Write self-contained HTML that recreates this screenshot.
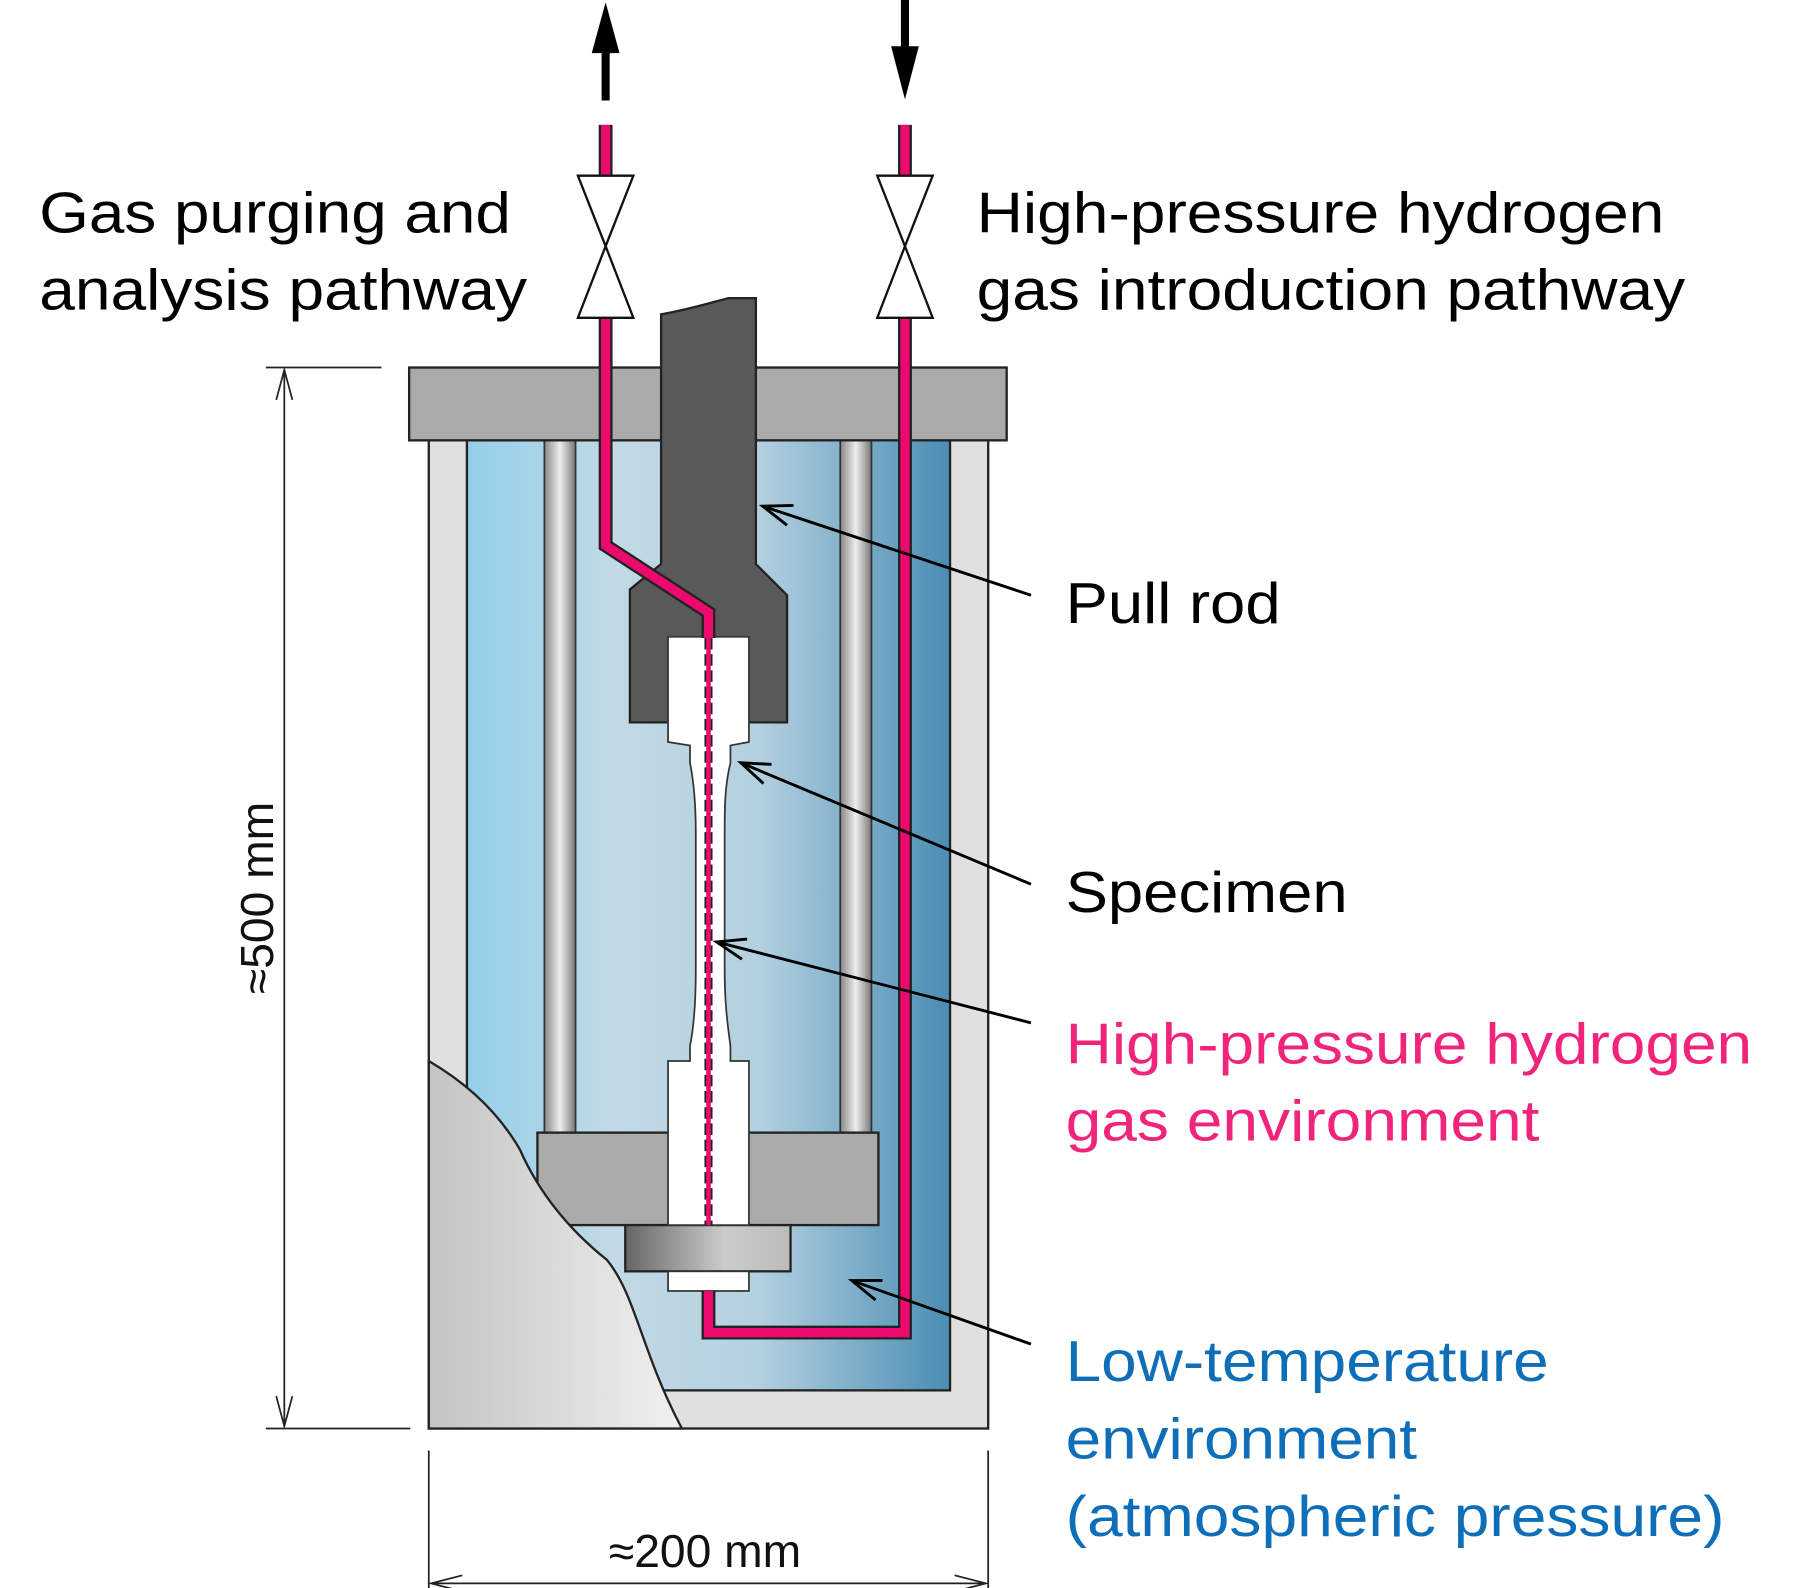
<!DOCTYPE html>
<html><head><meta charset="utf-8"><style>html,body{margin:0;padding:0;background:#fff}svg{display:block}</style></head>
<body>
<svg width="1803" height="1588" viewBox="0 0 1560 1374" preserveAspectRatio="none" xmlns="http://www.w3.org/2000/svg" font-family="Liberation Sans, Arial, sans-serif">
<defs>
<linearGradient id="blue" x1="0" x2="1" y1="0" y2="0">
<stop offset="0" stop-color="#93cfea"/><stop offset="0.3" stop-color="#c2d9e5"/><stop offset="0.6" stop-color="#b4d1e0"/><stop offset="1" stop-color="#4a8db3"/></linearGradient>
<linearGradient id="rod" x1="0" x2="1"><stop offset="0" stop-color="#888"/><stop offset="0.5" stop-color="#eee"/><stop offset="1" stop-color="#777"/></linearGradient>
<linearGradient id="nut" x1="0" x2="1"><stop offset="0" stop-color="#666"/><stop offset="0.6" stop-color="#ccc"/><stop offset="1" stop-color="#bbb"/></linearGradient>
<linearGradient id="cut" x1="0" x2="1"><stop offset="0" stop-color="#c4c4c4"/><stop offset="1" stop-color="#f0f0f0"/></linearGradient>
<marker id="ah" markerWidth="32" markerHeight="26" refX="28" refY="12" orient="auto" markerUnits="userSpaceOnUse"><path d="M3,3 L28,12 L3,21" fill="none" stroke="#000" stroke-width="2.5"/></marker>
</defs>
<rect x="371" y="380" width="484" height="856" fill="#e0e0e0" stroke="#222" stroke-width="2"/>
<rect x="404" y="381" width="418" height="822" fill="url(#blue)" stroke="#222" stroke-width="2"/>
<rect x="471" y="381" width="27" height="600" fill="url(#rod)" stroke="#333" stroke-width="1.5"/>
<rect x="727" y="381" width="27" height="600" fill="url(#rod)" stroke="#333" stroke-width="1.5"/>
<rect x="354" y="318" width="517" height="63" fill="#aaa" stroke="#222" stroke-width="2"/>
<rect x="465" y="980" width="295" height="80" fill="#aaa" stroke="#222" stroke-width="2"/>
<rect x="541" y="1060" width="143" height="40" fill="url(#nut)" stroke="#222" stroke-width="2"/>
<path d="M572,272 C595,268 615,262 630,258 L654,258 L654,488 L681,515 L681,625 L545,625 L545,510 L572,488 Z" fill="#595959" stroke="#222" stroke-width="2"/>
<path d="M578,551 L648,551 L648,642 L632,645 L632,660 C627,680 627,700 627,720 L627,840 C627,870 630,890 632,905 L632,918 L648,918 L648,1060 L578,1060 L578,918 L597,918 L597,905 C600,890 602,870 602,840 L602,720 C602,700 601,680 597,660 L597,645 L578,642 Z" fill="#fff" stroke="#333" stroke-width="1.5"/>
<rect x="578" y="1100" width="70" height="17" fill="#fff" stroke="#333" stroke-width="1.5"/>
<path d="M371,918 C400,935 430,960 450,995 C470,1040 500,1070 525,1090 C550,1120 555,1170 590,1236 L371,1236 Z" fill="url(#cut)" stroke="#222" stroke-width="2"/>
<g fill="none" stroke-linejoin="miter">
<path d="M524,108 L524,152 M783,108 L783,152 M524,275 L524,472 L613,530 L613,552 M613,1117 L613,1153 L783,1153 L783,275" stroke="#222" stroke-width="12"/>
<path d="M524,108 L524,152 M783,108 L783,152 M524,275 L524,472 L613,530 L613,552 M613,1117 L613,1153 L783,1153 L783,275" stroke="#ec0a6e" stroke-width="8"/>
<line x1="613" y1="552" x2="613" y2="1060" stroke="#222" stroke-width="7" stroke-dasharray="10,4"/>
<line x1="613" y1="552" x2="613" y2="1060" stroke="#ec0a6e" stroke-width="4"/>
</g>
<g fill="#fff" stroke="#111" stroke-width="2">
<path d="M500,152 L548,152 L524,213 Z M524,213 L548,275 L500,275 Z"/>
<path d="M759,152 L807,152 L783,213 Z M783,213 L807,275 L759,275 Z"/>
</g>
<line x1="524" y1="87" x2="524" y2="40" stroke="#000" stroke-width="7"/>
<path d="M512,46 L524,2 L536,46 Z" fill="#000"/>
<line x1="783" y1="0" x2="783" y2="45" stroke="#000" stroke-width="7"/>
<path d="M771,40 L783,86 L795,40 Z" fill="#000"/>
<g stroke="#222" stroke-width="1.5" fill="none">
<line x1="230" y1="318" x2="330" y2="318"/><line x1="230" y1="1236" x2="355" y2="1236"/>
<line x1="246" y1="320" x2="246" y2="1234"/>
<path d="M239,346 L246,320 L253,346 M239,1208 L246,1234 L253,1208"/>
<line x1="371" y1="1255" x2="371" y2="1380"/><line x1="855" y1="1255" x2="855" y2="1380"/>
<line x1="373" y1="1370" x2="853" y2="1370"/>
<path d="M400,1363 L373,1370 L400,1377 M826,1363 L853,1370 L826,1377"/>
</g>
<text transform="translate(236,777) rotate(-90)" text-anchor="middle" font-size="40" fill="#111">≈500 mm</text>
<text x="610" y="1356" text-anchor="middle" font-size="40" fill="#111">≈200 mm</text>
<g stroke="#000" stroke-width="2.5">
<line x1="892" y1="515" x2="660" y2="438" marker-end="url(#ah)"/>
<line x1="892" y1="765" x2="641" y2="660" marker-end="url(#ah)"/>
<line x1="892" y1="885" x2="620" y2="815" marker-end="url(#ah)"/>
<line x1="892" y1="1163" x2="737" y2="1108" marker-end="url(#ah)"/>
</g>
<g font-size="50" fill="#000">
<text x="34" y="201" textLength="408" lengthAdjust="spacingAndGlyphs">Gas purging and</text>
<text x="34" y="268" textLength="422" lengthAdjust="spacingAndGlyphs">analysis pathway</text>
<text x="845" y="201" textLength="595" lengthAdjust="spacingAndGlyphs">High-pressure hydrogen</text>
<text x="845" y="268" textLength="613" lengthAdjust="spacingAndGlyphs">gas introduction pathway</text>
<text x="922" y="539" textLength="186" lengthAdjust="spacingAndGlyphs">Pull rod</text>
<text x="922" y="789" textLength="244" lengthAdjust="spacingAndGlyphs">Specimen</text>
</g>
<g font-size="50" fill="#f0247a">
<text x="922" y="920" textLength="594" lengthAdjust="spacingAndGlyphs">High-pressure hydrogen</text>
<text x="922" y="987" textLength="410" lengthAdjust="spacingAndGlyphs">gas environment</text>
</g>
<g font-size="50" fill="#0e6eb8">
<text x="922" y="1195" textLength="418" lengthAdjust="spacingAndGlyphs">Low-temperature</text>
<text x="922" y="1262" textLength="304" lengthAdjust="spacingAndGlyphs">environment</text>
<text x="922" y="1329" textLength="570" lengthAdjust="spacingAndGlyphs">(atmospheric pressure)</text>
</g>
</svg>
</body></html>
